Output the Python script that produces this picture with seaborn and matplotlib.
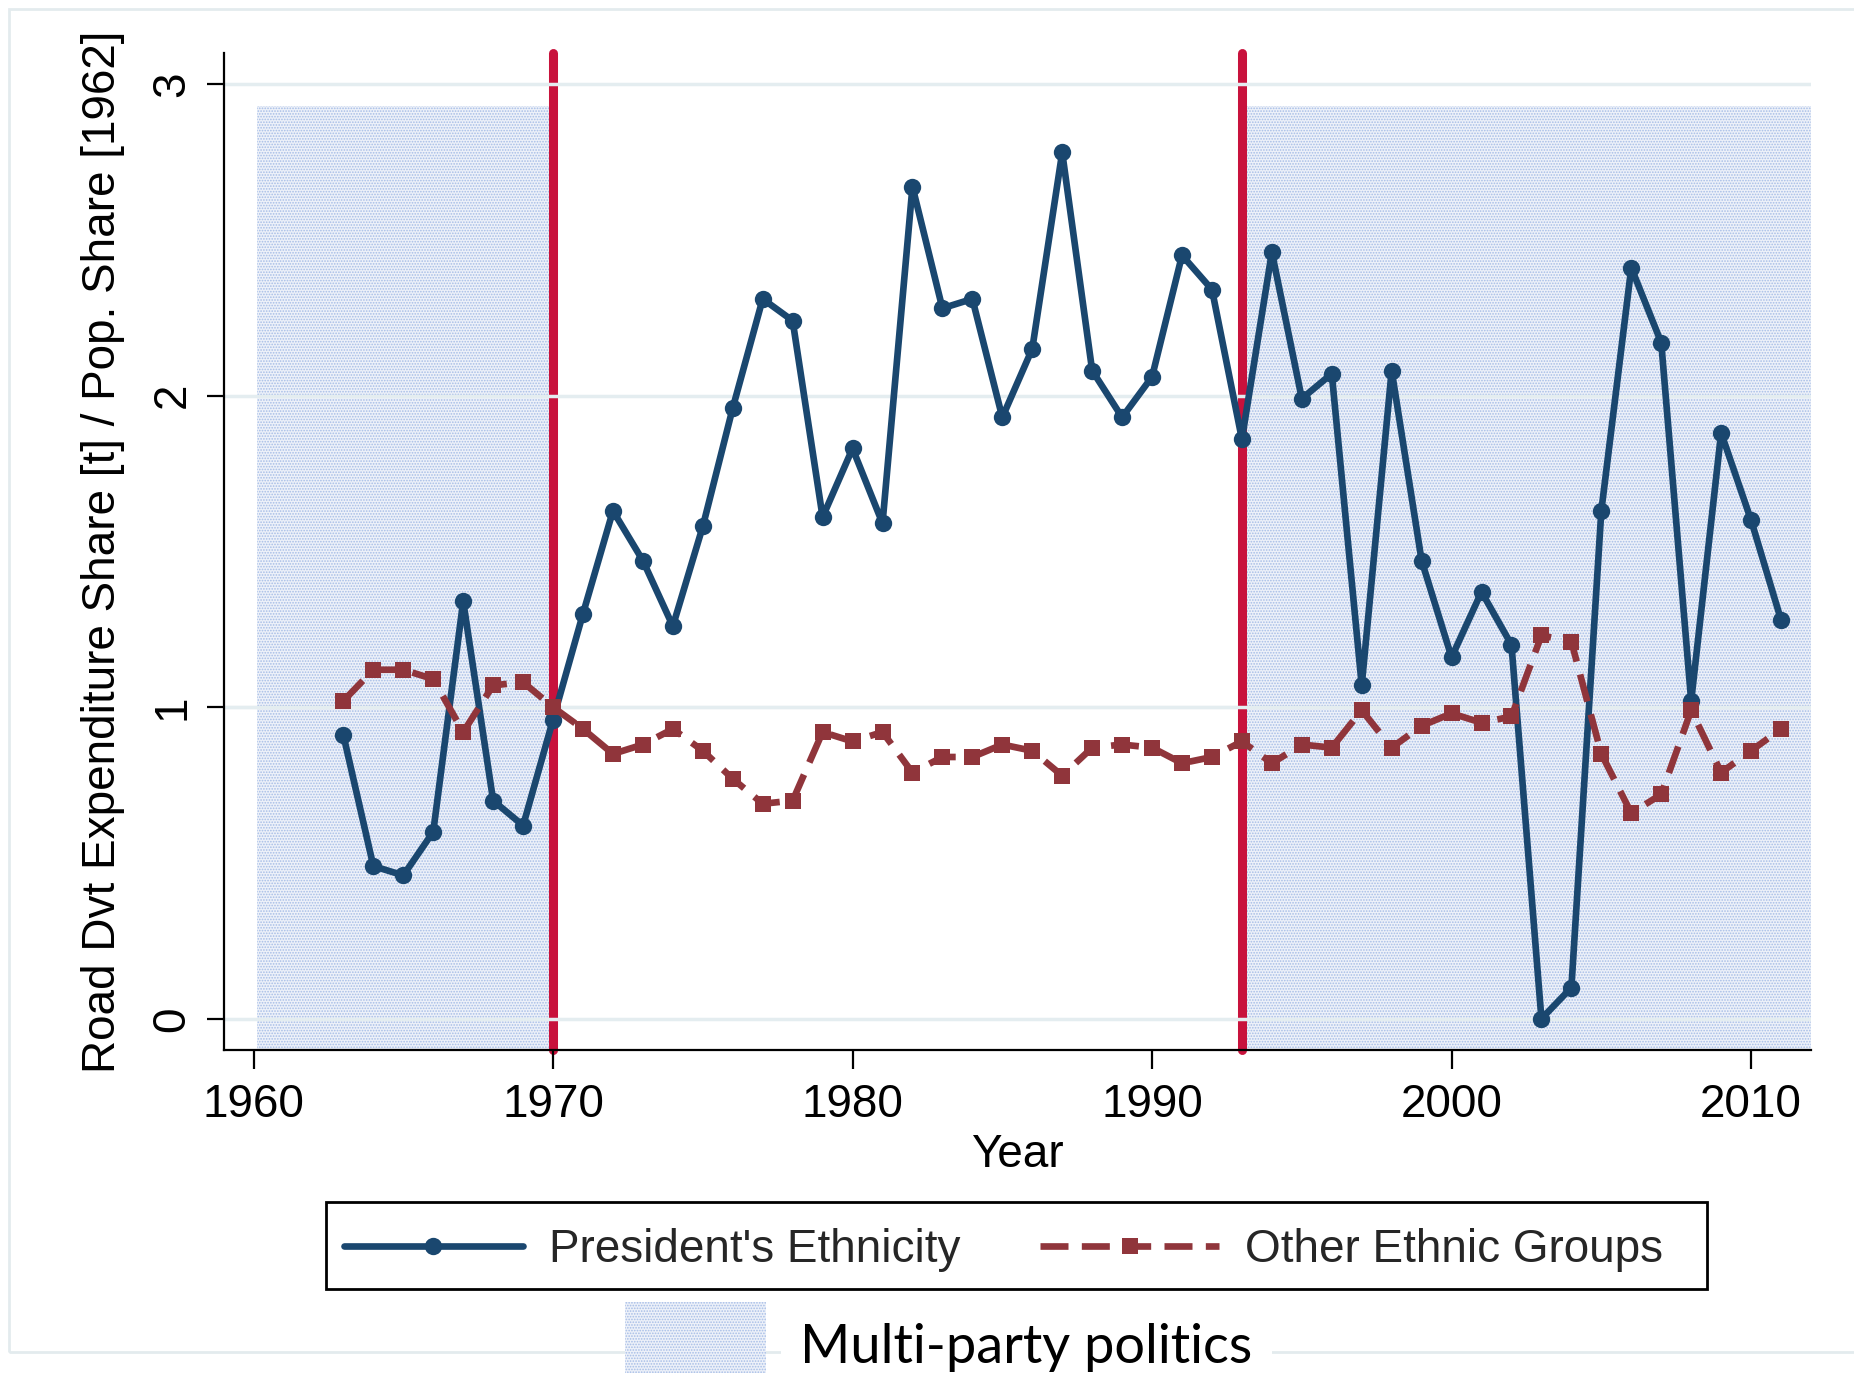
import numpy as np
import pandas as pd
import matplotlib
matplotlib.use("Agg")
import matplotlib.pyplot as plt
import seaborn as sns
from matplotlib.patches import Rectangle

# data
years = list(range(1963, 2012))
president = [0.91, 0.49, 0.46, 0.60, 1.34, 0.70, 0.62, 0.96, 1.30, 1.63,
             1.47, 1.26, 1.58, 1.96, 2.31, 2.24, 1.61, 1.83, 1.59, 2.67,
             2.28, 2.31, 1.93, 2.15, 2.78, 2.08, 1.93, 2.06, 2.45, 2.34,
             1.86, 2.46, 1.99, 2.07, 1.07, 2.08, 1.47, 1.16, 1.37, 1.20,
             0.00, 0.10, 1.63, 2.41, 2.17, 1.02, 1.88, 1.60, 1.28]
other = [1.02, 1.12, 1.12, 1.09, 0.92, 1.07, 1.08, 1.00, 0.93, 0.85,
         0.88, 0.93, 0.86, 0.77, 0.69, 0.70, 0.92, 0.89, 0.92, 0.79,
         0.84, 0.84, 0.88, 0.86, 0.78, 0.87, 0.88, 0.87, 0.82, 0.84,
         0.89, 0.82, 0.88, 0.87, 0.99, 0.87, 0.94, 0.98, 0.95, 0.97,
         1.23, 1.21, 0.85, 0.66, 0.72, 0.99, 0.79, 0.86, 0.93]
regime_breaks = [1970, 1993]
multiparty_periods = [(1960.1, 1970), (1993, 2012)]
series_labels = ["President's Ethnicity", "Other Ethnic Groups"]
x_ticks = [1960, 1970, 1980, 1990, 2000, 2010]
y_ticks = [0, 1, 2, 3]

df = pd.DataFrame({"Year": years, "president": president, "other": other})

sns.set_theme(style="white")
plt.rcParams['font.family'] = ['Liberation Sans', 'DejaVu Sans']
plt.rcParams['hatch.linewidth'] = 0.8

BLUE = "#1a476f"
MAROON = "#90353b"
CRIMSON = "#c8123c"
SHADE = "#edf1f9"
DOTS = "#a6bde6"
FS = 33
W, H = 1854, 1373

fig = plt.figure(figsize=(W / 100, H / 100), dpi=100)
ax = fig.add_axes([0.1206, 0.2353, 0.9768 - 0.1206, 0.9616 - 0.2353])

# multi-party shading
for x0, x1 in multiparty_periods:
    ax.add_patch(Rectangle((x0, -0.1), x1 - x0, 2.93 + 0.1, facecolor=SHADE,
                           edgecolor=DOTS, hatch="......", linewidth=0,
                           zorder=0.5))

ax.set_yticks(y_ticks)
ax.set_xticks(x_ticks)
ax.grid(axis="y", color="#e4edf0", linewidth=2.5, zorder=1)
ax.grid(axis="x", visible=False)
ax.set_axisbelow(False)
for gl in ax.get_ygridlines():
    gl.set_zorder(1)
ax.axhline(1, color="#a0a0a0", linewidth=2.2, zorder=1.5)

for xb in regime_breaks:
    ax.plot([xb, xb], [-0.1, 3.1], color=CRIMSON, linewidth=6.5,
            solid_capstyle="round", zorder=2, clip_on=False)

sns.lineplot(data=df, x="Year", y="president", ax=ax, color=BLUE,
             marker="o", markersize=12.5, linewidth=4.8, markeredgewidth=0,
             label=series_labels[0], zorder=3, legend=False)
sns.lineplot(data=df, x="Year", y="other", ax=ax, color=MAROON,
             marker="s", markersize=12, linewidth=4.8, markeredgewidth=0,
             label=series_labels[1], zorder=4, legend=False)
l_pres = ax.lines[-2]
l_oth = ax.lines[-1]
l_oth.set_dashes([4.2, 2.0])

ax.set_xlim(1959.0, 2012.0)
ax.set_ylim(-0.1, 3.1)

for s in ["top", "right"]:
    ax.spines[s].set_visible(False)
for s in ["left", "bottom"]:
    ax.spines[s].set_color("black")
    ax.spines[s].set_linewidth(1.6)
    ax.spines[s].set_zorder(5)

ax.tick_params(axis="both", which="major", direction="out", length=14,
               width=1.6, color="black", labelsize=FS, labelcolor="black",
               pad=10, bottom=True, left=True)
ax.tick_params(axis="y", labelrotation=90, length=12, pad=9)
for lab in ax.get_yticklabels():
    lab.set_va("center")

ax.set_xlabel("Year", fontsize=FS, color="black", labelpad=4)
ax.set_ylabel("Road Dvt Expenditure Share [t] / Pop. Share [1962]",
              fontsize=FS, color="black", labelpad=18)

# outer light frame
fig.add_artist(Rectangle((9 / W, 1 - 1352 / H), 1.2, (1352 - 9) / H,
                         transform=fig.transFigure, fill=False,
                         edgecolor="#e3ebee", linewidth=2, zorder=0))

# legend box
fig.add_artist(Rectangle((325.5 / W, 1 - 1289 / H), (1707 - 325.5) / W, 87 / H,
                         transform=fig.transFigure, facecolor="white",
                         edgecolor="black", linewidth=2, zorder=1))
leg = fig.legend(handles=[l_pres, l_oth], labels=series_labels,
                 loc="center left", bbox_to_anchor=(325.5 / W, 1 - 1250 / H),
                 ncol=2, frameon=False, borderaxespad=0, borderpad=0.4,
                 handlelength=3.9, handletextpad=0.57, columnspacing=1.75,
                 numpoints=1, fontsize=FS)
leg.set_zorder(2)

# multi-party key below the legend
fig.add_artist(Rectangle((625 / W, 0), 140.6 / W, (H - 1301.7) / H,
                         transform=fig.transFigure, facecolor=SHADE,
                         edgecolor=DOTS, hatch="......", linewidth=0,
                         zorder=2))
fig.text(800 / W, 1 - 1362.7 / H, "Multi-party politics", fontsize=39,
         family=["Lato", "DejaVu Sans"], va="baseline", ha="left",
         color="black", zorder=3,
         bbox=dict(facecolor="white", edgecolor="none", pad=14))

fig.savefig("out.png", dpi=100)
